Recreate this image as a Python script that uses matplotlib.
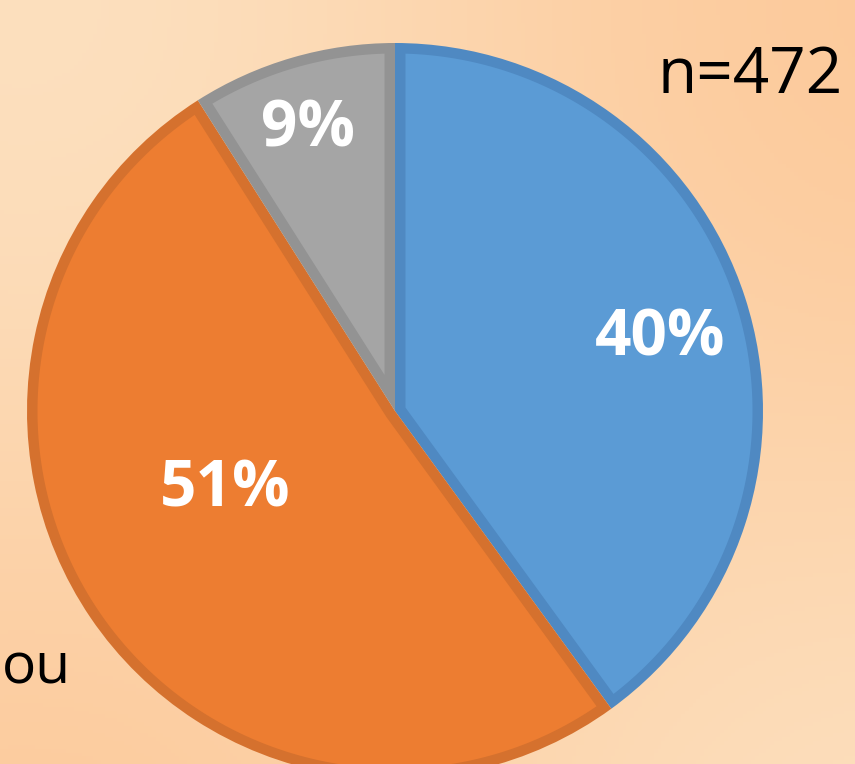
import numpy as np
import matplotlib.pyplot as plt
from matplotlib.colors import to_rgb
from matplotlib.patches import Polygon

# data
labels = ['40%', '51%', '9%']
values = [40, 51, 9]
colors = ['#5B9BD5', '#ED7D31', '#A5A5A5']
edges = ['#4F89C2', '#D5712E', '#939393']
label_dist = [0.747, 0.51, 0.80]
label_turn = [-2.8, -9.3, 0.9]   # degrees off the wedge middle
n_text = 'n=472'
side_text = 'ou'

W, H = 855, 764
fig = plt.figure(figsize=(W / 100, H / 100), dpi=100)
ax = fig.add_axes([0, 0, 1, 1])

# soft peach background
yy, xx = np.mgrid[0:1:200j, 0:1:220j]
c1 = np.array(to_rgb('#FCC898'))
c2 = np.array(to_rgb('#FDE2C2'))
t = np.clip(0.5 + 0.4 * np.sin(3 * xx + 1.5) * np.cos(2.5 * yy), 0, 1)
bg = c1 * (1 - t[..., None]) + c2 * t[..., None]
ax.imshow(bg, extent=[0, W, 0, H], origin='upper', aspect='auto', zorder=0)

center = (395, H - 411)
radius = 368
border = 10.5
wedges, _ = ax.pie(values, colors=edges, startangle=90, counterclock=False,
                   center=center, radius=radius, frame=True,
                   wedgeprops=dict(linewidth=0))
ax.set_xlim(0, W)
ax.set_ylim(0, H)
ax.set_aspect('auto')
ax.axis('off')

for w, fc, lab, d, turn in zip(wedges, colors, labels, label_dist, label_turn):
    w.set_zorder(2)
    t1, t2 = np.deg2rad(w.theta1), np.deg2rad(w.theta2)
    half = (t2 - t1) / 2
    mid = t1 + half
    # inner face, inset by the border width
    ri = radius - border
    delta = np.arcsin(border / ri)
    arc = np.linspace(t1 + delta, t2 - delta, 200)
    apex_r = border / np.sin(half)
    pts = [(center[0] + apex_r * np.cos(mid), center[1] + apex_r * np.sin(mid))]
    pts += [(center[0] + ri * np.cos(a), center[1] + ri * np.sin(a)) for a in arc]
    ax.add_patch(Polygon(pts, closed=True, facecolor=fc, edgecolor='none', zorder=2.5))

    ang = mid + np.deg2rad(turn)
    x = center[0] + d * radius * np.cos(ang)
    y = center[1] + d * radius * np.sin(ang)
    ax.text(x, y, lab, color='white', fontsize=46, fontweight='bold',
            family='Open Sans', ha='center', va='center', zorder=3)

ax.text(843, H - 93, n_text, fontsize=46, family='Open Sans',
        ha='right', va='baseline', zorder=3)
ax.text(2, H - 683, side_text, fontsize=41, family='Open Sans',
        ha='left', va='baseline', zorder=3)

fig.savefig('out.png', dpi=100)
